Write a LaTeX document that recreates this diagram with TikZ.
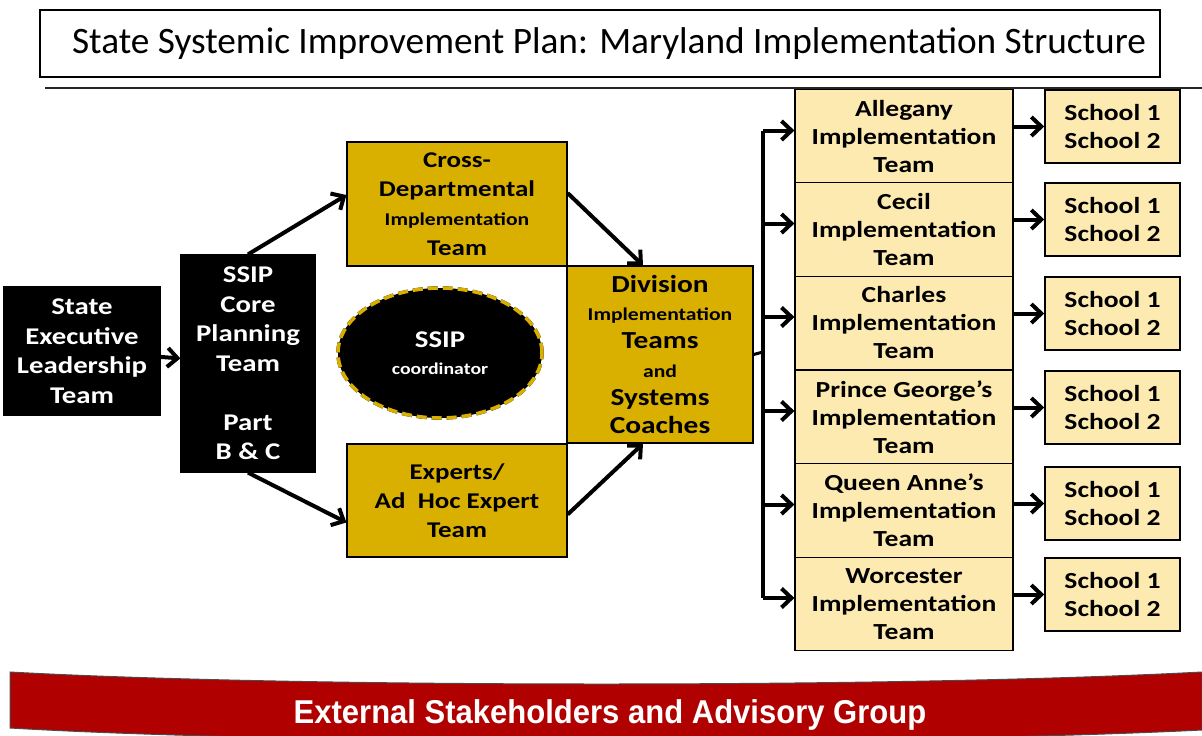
\documentclass[tikz,border=0pt]{standalone}
\usepackage{fontspec}
\setmainfont{Carlito}
\newfontfamily\boxfont[FakeStretch=1.2]{Carlito}
\newfontfamily\bannerfont[FakeStretch=0.94]{Liberation Sans}
\usetikzlibrary{shapes.geometric}
\usetikzlibrary{positioning}
\usetikzlibrary{arrows.meta}
\usepackage{xcolor}
\definecolor{gold}{RGB}{218,176,0}
\definecolor{paleyellow}{RGB}{252,234,176}
\definecolor{bannerred}{RGB}{176,0,0}

\begin{document}
\begin{tikzpicture}[x=1pt, y=-1pt,
    box/.style={draw, rectangle, align=center, inner sep=0pt, line width=1.2pt,
      font=\boxfont\bfseries\fontsize{22.5}{29.3}\selectfont},
    blackbox/.style={box, fill=black, text=white, font=\boxfont\bfseries\fontsize{24}{29.5}\selectfont},
    goldbox/.style={box, fill=gold},
    countybox/.style={box, fill=paleyellow, minimum width=218pt, minimum height=93.5pt,
      font=\boxfont\bfseries\fontsize{23}{28}\selectfont},
    schoolbox/.style={box, fill=paleyellow, minimum width=135pt, minimum height=73pt,
      line width=1.6pt, font=\boxfont\bfseries\fontsize{23}{28}\selectfont},
    link/.style={-{Straight Barb[length=10pt,width=19pt]}, line width=4pt}
  ]
  \useasboundingbox (0,0) rectangle (1202,736);

  % title
  \node[draw, rectangle, line width=1.2pt, minimum width=1120pt, minimum height=67pt,
    font=\fontsize{37.3}{42}\selectfont] (title) at (600,43.5)
    {\hspace*{18pt}State Systemic Improvement Plan: Maryland Implementation Structure};
  \coordinate (ruleL) at (45,88);
  \coordinate (ruleR) at (1202,88);
  \draw[line width=2.5pt, black!85] (ruleL) -- (ruleR);

  % left side
  \node[blackbox, minimum width=156pt, minimum height=128pt] (state) at (82,351)
    {State\\Executive\\Leadership\\Team};
  \node[blackbox, minimum width=134pt, minimum height=217pt] (core) at (248,363.5)
    {SSIP\\Core\\Planning\\Team\\[29.5pt]Part\\B \& C};
  \node[goldbox, minimum width=220pt, minimum height=124pt] (cross) at (457,204)
    {Cross-\\Departmental\\{\fontsize{18}{29.3}\selectfont Implementation}\\Team};
  \node[goldbox, minimum width=220pt, minimum height=113pt] (experts) at (457,500.5)
    {Experts/\\Ad~ Hoc Expert\\Team};
  \node[draw=gold, dash pattern=on 10pt off 5pt, line width=3.5pt, fill=black, ellipse,
    minimum width=204pt, minimum height=130pt, text=white, align=center, inner sep=0pt,
    font=\boxfont\bfseries\fontsize{24}{27}\selectfont,
    preaction={draw=black, line width=3.5pt}] (coord) at (440,353)
    {SSIP\\{\fontsize{16.5}{27}\selectfont coordinator}};
  \node[goldbox, minimum width=186pt, minimum height=177pt,
    font=\boxfont\bfseries\fontsize{24.5}{28.2}\selectfont] (division) at (660,354.5)
    {Division\\{\fontsize{18}{28.2}\selectfont Implementation}\\Teams\\{\fontsize{18}{28.2}\selectfont and}\\Systems\\Coaches};

  \draw[link] (state) -- (core);
  \draw[link] (core.north) -- ([yshift=9pt]cross.west);
  \draw[link] (core.south) -- ([yshift=-22pt]experts.west);
  \draw[link] ([yshift=11pt]cross.east) -- ([xshift=-17pt]division.north);
  \draw[link] ([yshift=-14pt]experts.east) -- ([xshift=-17pt]division.south);

  % counties and schools
  \node[countybox] (c1) at (904,136.5) {Allegany\\Implementation\\Team};
  \node[countybox] (c2) at (904,229.5) {Cecil\\Implementation\\Team};
  \node[countybox] (c3) at (904,323) {Charles\\Implementation\\Team};
  \node[countybox] (c4) at (904,417) {Prince George’s\\Implementation\\Team};
  \node[countybox] (c5) at (904,510.5) {Queen Anne’s\\Implementation\\Team};
  \node[countybox] (c6) at (904,604) {Worcester\\Implementation\\Team};

  \node[schoolbox] (s1) at (1112.5,126.5) {School 1\\School 2};
  \node[schoolbox] (s2) at (1112.5,219.5) {School 1\\School 2};
  \node[schoolbox] (s3) at (1112.5,313.5) {School 1\\School 2};
  \node[schoolbox] (s4) at (1112.5,407.5) {School 1\\School 2};
  \node[schoolbox] (s5) at (1112.5,503.5) {School 1\\School 2};
  \node[schoolbox] (s6) at (1112.5,594.5) {School 1\\School 2};

  \coordinate (split) at (763,352);
  \draw[line width=3pt] (division.east) -- (split);
  \draw[line width=4pt] ([yshift=6pt]split |- c1.west) -- ([yshift=6pt]split |- c6.west);
  \foreach \i in {1,...,6} {
    \draw[link] ([yshift=6pt]split |- c\i.west) -- ([yshift=6pt]c\i.west);
    \draw[link] (c\i.east |- s\i.west) -- (s\i.west);
  }

  % banner
  \fill[bannerred, draw=black!70, line width=1pt]
    (10,672) .. controls (300,688) and (900,688) .. (1202,672)
    -- (1202,730) .. controls (900,745) and (300,745) .. (10,728) -- cycle;
  \node[text=white, font=\bannerfont\bfseries\fontsize{33}{36}\selectfont] (banner) at (610,715)
    {External Stakeholders and Advisory Group};
\end{tikzpicture}
\end{document}
